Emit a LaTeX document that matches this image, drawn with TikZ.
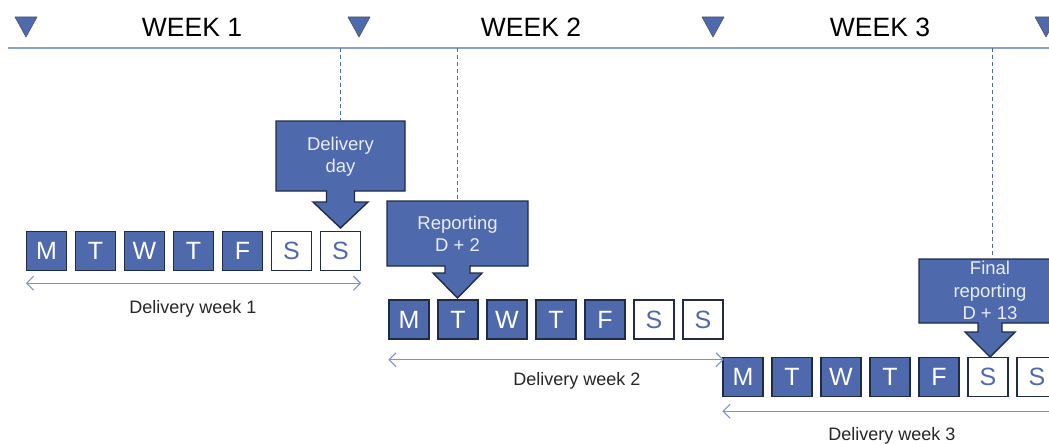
\documentclass[tikz,border=0pt]{standalone}
\usepackage{fontspec}
\setmainfont{Liberation Sans}
\usetikzlibrary{arrows.meta}
\definecolor{dayblue}{HTML}{4F69AD}
\definecolor{edgeblue}{HTML}{1F2B47}
\definecolor{rulecol}{HTML}{8C9FD3}
\definecolor{spancol}{HTML}{7F92C8}
\definecolor{calltext}{HTML}{E9EDF8}

\begin{document}
\begin{tikzpicture}[x=1pt,y=-1pt,
  daybox/.style={draw=edgeblue, line width=1.4pt, fill=dayblue, text=white,
    minimum width=40pt, minimum height=39pt, inner sep=0pt,
    font=\fontsize{25}{25}\selectfont},
  wkendbox/.style={daybox, fill=white, text=dayblue},
  weeklabel/.style={font=\fontsize{26.5}{26.5}\selectfont, text=black, inner sep=0pt},
  spanlabel/.style={font=\fontsize{18}{18}\selectfont, text=black!85, inner sep=0pt},
  marker/.style={fill=dayblue, draw=edgeblue!80, line width=0.6pt, line join=round},
  callout/.style={fill=dayblue, draw=edgeblue, line width=1.4pt, line join=miter},
  calltextstyle/.style={text=calltext, align=center, inner sep=0pt,
    font=\fontsize{18.5}{22.5}\selectfont},
  guide/.style={draw=dayblue, line width=0.8pt, dash pattern=on 4pt off 3pt},
  spanarrow/.style={draw=spancol, line width=1.1pt,
    {Straight Barb[length=7pt,width=14pt]}-{Straight Barb[length=7pt,width=14pt]}},
  timeline/.style={draw=rulecol, line width=1.5pt}]

\useasboundingbox (0,0) rectangle (1049,444);

% timeline at the top
\coordinate (rule) at (0,48);
\draw[timeline] (8,48) -- (1060,48);
\foreach \x in {26,359,713,1046}
  \draw[marker] ({\x-11},17) -- ({\x+11},17) -- (\x,37) -- cycle;
\node[weeklabel] (wk1) at (192,27) {WEEK 1};
\node[weeklabel] (wk2) at (531,27) {WEEK 2};
\node[weeklabel] (wk3) at (880,27) {WEEK 3};

% day rows
\foreach \l/\s [count=\i] in {M/daybox,T/daybox,W/daybox,T/daybox,F/daybox,S/wkendbox,S/wkendbox} {
  \node[\s] (r1d\i) at ({46.5+49*(\i-1)},251) {\l};
  \node[\s] (r2d\i) at ({409+49*(\i-1)},319.5) {\l};
  \node[\s] (r3d\i) at ({743+49*(\i-1)},377) {\l};
}

% span arrows with captions
\draw[spanarrow] ([yshift=-12pt]r1d1.south west) -- ([yshift=-12pt]r1d7.south east);
\node[spanlabel] (lab1) at (193,309) {Delivery week 1};
\draw[spanarrow] ([yshift=-20pt]r2d1.south west) -- ([yshift=-20pt]r2d7.south east);
\node[spanlabel] (lab2) at (577,381) {Delivery week 2};
\draw[spanarrow] ([yshift=-14pt]r3d1.south west) -- ([yshift=-14pt]r3d7.south east);
\node[spanlabel] (lab3) at (892,436) {Delivery week 3};

% callouts
\draw[callout] (276,121) -- (405,121) -- (405,191) -- (354.5,191) -- (354.5,202)
  -- (368,202) -- (340.5,228) -- (313,202) -- (326.5,202) -- (326.5,191)
  -- (276,191) -- cycle;
\coordinate (c1) at (340.5,121);
\node[calltextstyle] (dday) at (340.5,156.5) {Delivery\\day};

\draw[callout] (387,201) -- (528,201) -- (528,266) -- (470,266) -- (470,273)
  -- (482,273) -- (457.5,298) -- (433,273) -- (445,273) -- (445,266)
  -- (387,266) -- cycle;
\coordinate (c2) at (457.5,201);
\node[calltextstyle] (rep) at (457.5,234) {Reporting\\D + 2};

\draw[callout] (919,259) -- (1061,259) -- (1061,323) -- (1002,323) -- (1002,332)
  -- (1015,332) -- (990,357) -- (965,332) -- (978,332) -- (978,323)
  -- (919,323) -- cycle;
\coordinate (c3) at (992,259);
\node[calltextstyle] (final) at (990,290.5) {Final\\reporting\\D + 13};

% guide lines from the timeline
\draw[guide] (c1 |- rule) -- (c1);
\draw[guide] (c2 |- rule) -- (c2);
\draw[guide] (c3 |- rule) -- (c3);
\end{tikzpicture}
\end{document}
